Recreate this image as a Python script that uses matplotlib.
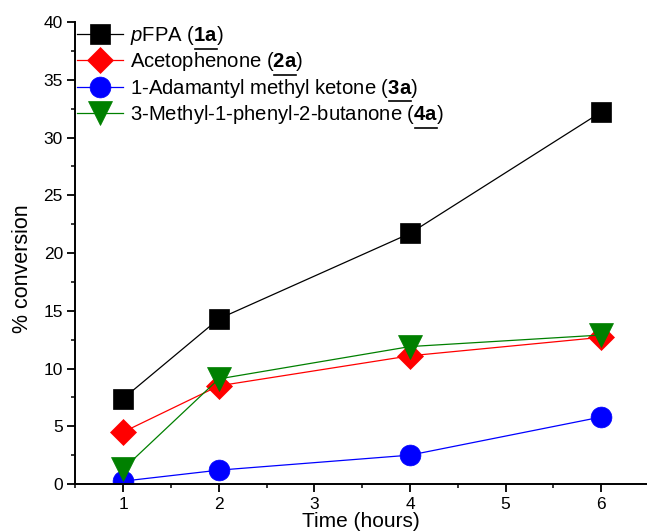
import matplotlib
matplotlib.use('Agg')
import matplotlib.pyplot as plt
from matplotlib.ticker import MultipleLocator
from matplotlib.lines import Line2D
from matplotlib.transforms import IdentityTransform

plt.rcParams['font.family'] = ['Liberation Sans', 'DejaVu Sans']
plt.rcParams['mathtext.fontset'] = 'custom'
plt.rcParams['mathtext.rm'] = 'Liberation Sans'
plt.rcParams['mathtext.it'] = 'Liberation Sans:italic'
plt.rcParams['mathtext.bf'] = 'Liberation Sans:bold'

# data
hours = [1, 2, 4, 6]
pfpa = [7.4, 14.3, 21.7, 32.2]
acetophenone = [4.5, 8.5, 11.1, 12.7]
adamantyl = [0.25, 1.2, 2.5, 5.8]
methylphenyl = [1.3, 9.1, 11.9, 12.9]

prefixes = [r'$\mathit{p}$FPA (', 'Acetophenone (', '1-Adamantyl methyl ketone (',
            '3-Methyl-1-phenyl-2-butanone (']
codes = ['1a', '2a', '3a', '4a']
labels = [p + r'$\mathbf{' + c + '}$)' for p, c in zip(prefixes, codes)]

series = [pfpa, acetophenone, adamantyl, methylphenyl]
colors = ['black', 'red', 'blue', 'green']
markers = ['s', 'D', 'o', 'v']
msizes = [14, 13, 15, 17]

fig = plt.figure(figsize=(6.47, 5.32), dpi=100)
ax = fig.add_axes([0.1165, 0.0902, 0.8835, 0.8684])

for ys, c, m, ms, lab in zip(series, colors, markers, msizes, labels):
    ax.plot(hours, ys, color=c, lw=0.9, marker=m, markersize=ms,
            markerfacecolor=c, markeredgecolor=c, markeredgewidth=0.5, label=lab)

ax.set_xlim(0.5, 6.48)
ax.set_ylim(0, 40)
ax.xaxis.set_major_locator(MultipleLocator(1))
ax.xaxis.set_minor_locator(MultipleLocator(0.5))
ax.yaxis.set_major_locator(MultipleLocator(5))
ax.yaxis.set_minor_locator(MultipleLocator(2.5))

for s in ['top', 'right']:
    ax.spines[s].set_visible(False)
for s in ['left', 'bottom']:
    ax.spines[s].set_linewidth(1.4)

ax.tick_params(which='major', direction='out', length=6, width=1.3, labelsize=12.5, pad=3)
ax.tick_params(which='minor', direction='out', length=3, width=1.1)

ax.set_xlabel('Time (hours)', fontsize=15, labelpad=0.5)
ax.set_ylabel('% conversion', fontsize=15.5)
ax.yaxis.set_label_coords(-0.074, 0.467)

leg = ax.legend(loc='upper left', bbox_to_anchor=(0, 1.0), frameon=False,
                fontsize=14.6, handlelength=2.25, handletextpad=0.33,
                labelspacing=0.17, borderaxespad=0, borderpad=0.1)

# underline the bold compound codes in the legend
fig.canvas.draw()
renderer = fig.canvas.get_renderer()
for txt, code in zip(leg.get_texts(), codes):
    bb = txt.get_window_extent(renderer)
    fp = txt.get_fontproperties()
    t1 = fig.text(0, 0, r'$\mathbf{' + code + '}$)', fontproperties=fp)
    t2 = fig.text(0, 0, ')', fontproperties=fp)
    w_tail = t1.get_window_extent(renderer).width
    w_paren = t2.get_window_extent(renderer).width
    t1.remove()
    t2.remove()
    _, _, descent = renderer.get_text_width_height_descent('A', fp, ismath=False)
    y = bb.y0 + descent - 1.5
    fig.add_artist(Line2D([bb.x1 - w_tail + 1.5, bb.x1 - w_paren + 0.5], [y, y],
                          color='black', lw=1.2, transform=IdentityTransform()))

fig.savefig('out.png', dpi=100)
